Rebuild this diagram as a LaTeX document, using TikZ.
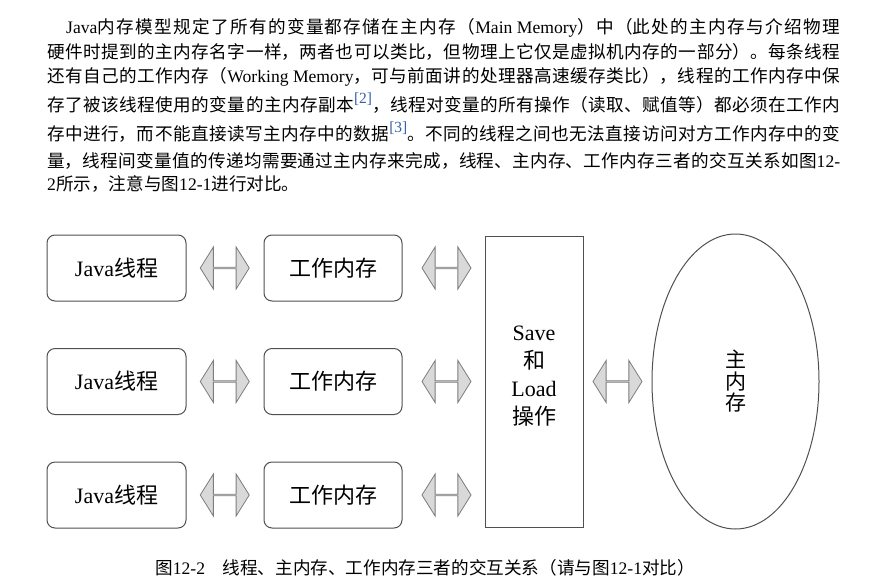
\documentclass[tikz,border=0pt]{standalone}
\usepackage{fontspec}
\setmainfont{Liberation Serif}
\newfontfamily\zhfont{Noto Sans CJK SC}
\usetikzlibrary{positioning,shapes.geometric,shapes.arrows,calc}
\XeTeXlinebreaklocale "zh"
\XeTeXlinebreakskip=0pt plus 1fil
\definecolor{refblue}{RGB}{55,95,170}
\definecolor{linegray}{RGB}{80,80,80}
\definecolor{arrowgray}{RGB}{125,125,125}
\definecolor{arrowfill}{RGB}{217,217,217}
\newcommand\lat[1]{{\rmfamily #1}}
\newcommand\refnum[1]{\raisebox{0.4em}{\color{refblue}\rmfamily\fontsize{15.5}{15.5}\selectfont[#1]}}
\begin{document}
\begin{tikzpicture}[x=1pt, y=-1pt, node distance=113.5pt,
	zhline/.style={anchor=base west, inner sep=0pt, text width=793pt, align=justify,
		font=\zhfont\fontsize{17.6}{20}\selectfont, execute at begin node={\parfillskip=0pt\relax}},
	zhtext/.style={anchor=base west, inner sep=0pt, font=\zhfont\fontsize{17.6}{20}\selectfont},
	membox/.style={rectangle, draw=linegray, line width=1pt, rounded corners=8pt,
		minimum width=139pt, minimum height=66pt, inner sep=0pt, font=\zhfont\fontsize{22}{26}\selectfont},
	opbox/.style={rectangle, draw=linegray, line width=1pt, minimum width=98pt, minimum height=291pt,
		inner sep=0pt, font=\zhfont\fontsize{22}{27.7}\selectfont},
	mainmem/.style={ellipse, draw=linegray, line width=1pt, minimum width=167pt, minimum height=295pt,
		inner sep=0pt, align=center, font=\zhfont\fontsize{21}{21.5}\selectfont},
	dblarrow/.style={double arrow, draw=arrowgray, fill=arrowfill, line width=0.8pt,
		minimum width=42pt, minimum height=49pt, double arrow head extend=11pt,
		double arrow tip angle=116, inner sep=0pt}]

		\useasboundingbox (0,0) rectangle (873,587);

		% text above the figure
		\node(para-1)[zhline, text width=774pt] at (66,33) {\lat{Java}内存模型规定了所有的变量都存储在主内存（\lat{Main Memory}）中（此处的主内存与介绍物理};
		\node(para-2)[zhline] at (47,58) {硬件时提到的主内存名字一样，两者也可以类比，但物理上它仅是虚拟机内存的一部分）。每条线程};
		\node(para-3)[zhline] at (47,82) {还有自己的工作内存（\lat{Working Memory}，可与前面讲的处理器高速缓存类比），线程的工作内存中保};
		\node(para-4)[zhline] at (47,111) {存了被该线程使用的变量的主内存副本\refnum{2}，线程对变量的所有操作（读取、赋值等）都必须在工作内};
		\node(para-5)[zhline] at (47,140) {存中进行，而不能直接读写主内存中的数据\refnum{3}。不同的线程之间也无法直接访问对方工作内存中的变};
		\node(para-6)[zhline] at (47,167) {量，线程间变量值的传递均需要通过主内存来完成，线程、主内存、工作内存三者的交互关系如图\lat{12-}};
		\node(para-7)[zhtext] at (47,190) {\lat{2}所示，注意与图\lat{12-1}进行对比。};

		% threads and working memory
		\node(java-1)[membox] at (116.5,268) {\lat{Java}线程};
		\node(java-2)[membox, below of=java-1] {\lat{Java}线程};
		\node(java-3)[membox, below of=java-2] {\lat{Java}线程};

		\node(work-1)[membox, minimum width=138pt] at (333,268) {工作内存};
		\node(work-2)[membox, minimum width=138pt, below of=work-1] {工作内存};
		\node(work-3)[membox, minimum width=138pt, below of=work-2] {工作内存};

		\node(save)[opbox] at (534,381.5) {\begin{tabular}{@{}c@{}}\lat{Save}\\和\\\lat{Load}\\操作\\[9pt]\end{tabular}};
		\node(mem)[mainmem] at (735.5,381.5) {主\\内\\存};

		% double arrows
		\node(arr-1)[dblarrow] at ($(java-1)!0.5!(work-1)$) {};
		\node(arr-2)[dblarrow] at ($(java-2)!0.5!(work-2)$) {};
		\node(arr-3)[dblarrow] at ($(java-3)!0.5!(work-3)$) {};
		\node(arr-4)[dblarrow, xshift=3pt] at ($(work-1.east)!0.5!(save.west |- work-1)$) {};
		\node(arr-5)[dblarrow, xshift=3pt] at ($(work-2.east)!0.5!(save.west |- work-2)$) {};
		\node(arr-6)[dblarrow, xshift=3pt] at ($(work-3.east)!0.5!(save.west |- work-3)$) {};
		\node(arr-7)[dblarrow] at ($(save.east)!0.5!(mem.west)$) {};

		\node(caption)[zhtext] at (155,574) {图\lat{12-2}\hspace{1em}线程、主内存、工作内存三者的交互关系（请与图\lat{12-1}对比）};
	\end{tikzpicture}
\end{document}
